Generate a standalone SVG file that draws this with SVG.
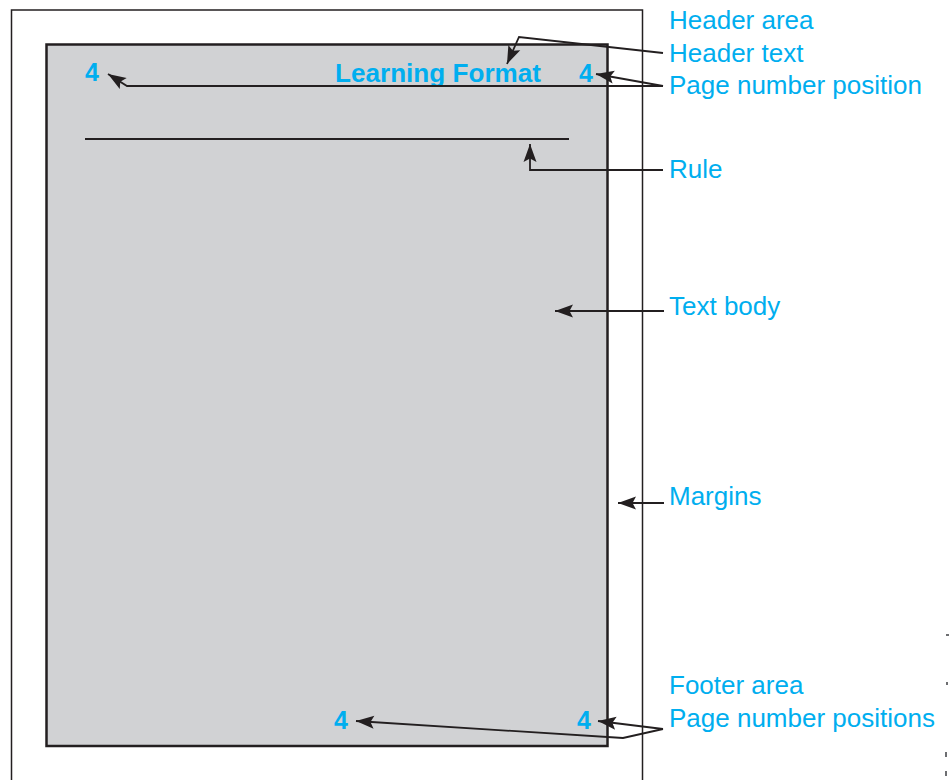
<svg xmlns="http://www.w3.org/2000/svg" width="950" height="780" viewBox="0 0 950 780">
  <defs>
    <marker id="arrow" markerUnits="userSpaceOnUse" markerWidth="22" markerHeight="16" viewBox="-1 -8 22 16" refX="18" refY="0" orient="auto">
      <path d="M0,-6.5 L18,0 L0,6.5 L3.5,0 z" fill="#231f20"/>
    </marker>
    <style>
      .label { font-family: "Liberation Sans", Arial, sans-serif; font-size: 26px; fill: #00aeef; }
      .pnum { font-family: "Liberation Sans", Arial, sans-serif; font-size: 25px; font-weight: bold; fill: #00aeef; }
      .lead { fill: none; stroke: #231f20; stroke-width: 1.8; stroke-linejoin: miter; }
      .arrowed { marker-end: url(#arrow); }
    </style>
  </defs>

  <rect width="950" height="780" fill="#ffffff"/>

  <!-- outer sheet -->
  <g id="sheet">
    <rect x="11.5" y="10" width="631" height="790" fill="#ffffff" stroke="#231f20" stroke-width="1.5"/>
  </g>

  <!-- printable page area -->
  <g id="page">
    <rect x="46.5" y="44.5" width="561" height="701.5" fill="#d1d2d4" stroke="#231f20" stroke-width="2.5"/>
  </g>

  <!-- header rule -->
  <g id="rule">
    <line x1="85" y1="139" x2="569" y2="139" stroke="#231f20" stroke-width="1.8"/>
  </g>

  <!-- header contents -->
  <g id="header-text">
    <text class="pnum" x="335" y="82" font-size="25.5" textLength="206" lengthAdjust="spacingAndGlyphs">Learning Format</text>
  </g>
  <g id="header-page-left">
    <text class="pnum" x="85" y="81">4</text>
  </g>
  <g id="header-page-right">
    <text class="pnum" x="579" y="82">4</text>
  </g>

  <!-- footer contents -->
  <g id="footer-page-left">
    <text class="pnum" x="334" y="729">4</text>
  </g>
  <g id="footer-page-right">
    <text class="pnum" x="577" y="729">4</text>
  </g>

  <!-- callout labels -->
  <g id="label-header-area"><text class="label" x="669" y="29">Header area</text></g>
  <g id="label-header-text"><text class="label" x="669" y="62">Header text</text></g>
  <g id="label-page-number"><text class="label" x="669" y="94">Page number position</text></g>
  <g id="label-rule"><text class="label" x="669" y="178">Rule</text></g>
  <g id="label-text-body"><text class="label" x="669" y="315">Text body</text></g>
  <g id="label-margins"><text class="label" x="669" y="505">Margins</text></g>
  <g id="label-footer-area"><text class="label" x="669" y="694">Footer area</text></g>
  <g id="label-page-numbers"><text class="label" x="669" y="727">Page number positions</text></g>

  <!-- leader lines -->
  <g id="connectors">
    <polyline class="lead arrowed" points="663,53 519,37 507,64"/>
    <line class="lead arrowed" x1="663" y1="86" x2="596" y2="74"/>
    <polyline class="lead arrowed" points="663,86 127,86 108,74"/>
    <polyline class="lead arrowed" points="663,170 530,170 530,144"/>
    <line class="lead arrowed" x1="664" y1="311" x2="555" y2="311"/>
    <line class="lead arrowed" x1="664" y1="503" x2="618" y2="503"/>
    <line class="lead arrowed" x1="663" y1="729" x2="598" y2="721"/>
    <polyline class="lead arrowed" points="663,729 623,738 356,721"/>
  </g>

  <!-- specks at the right edge -->
  <g id="edge-specks" fill="#6d6e71">
    <rect x="946" y="634" width="3" height="2"/>
    <rect x="946" y="682" width="2" height="3"/>
    <rect x="945" y="752" width="2" height="5"/>
    <rect x="945" y="771" width="2" height="5"/>
  </g>
</svg>
